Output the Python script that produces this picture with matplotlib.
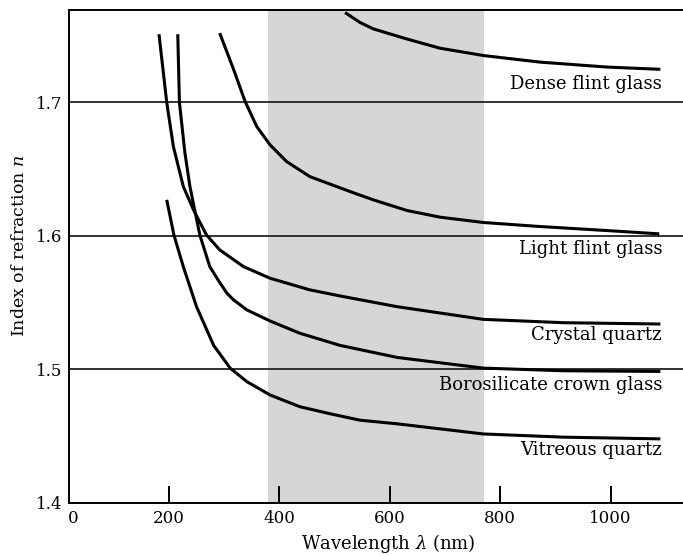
import matplotlib
matplotlib.use("Agg")
import matplotlib.pyplot as plt

plt.rcParams['font.family'] = ['DejaVu Serif']
plt.rcParams['mathtext.fontset'] = 'dejavuserif'

# refractive index curves (wavelength in nm)
crystal_nm = [182, 196, 208, 226, 245, 268, 292, 335, 383, 455, 510, 613, 769, 914, 1090]
crystal_n = [1.751, 1.700, 1.667, 1.637, 1.619, 1.6007, 1.5895, 1.577, 1.5683, 1.5596, 1.555, 1.547, 1.5375, 1.535, 1.534]

boro_nm = [216, 219, 229, 238, 256, 274, 289, 305, 317, 341, 383, 437, 510, 613, 769, 914, 1090]
boro_n = [1.751, 1.700, 1.662, 1.637, 1.6006, 1.577, 1.567, 1.5571, 1.5521, 1.5446, 1.5363, 1.5271, 1.518, 1.509, 1.501, 1.499, 1.4985]

vitreous_nm = [196, 209, 226, 250, 281, 311, 341, 383, 437, 492, 546, 613, 769, 914, 1090]
vitreous_n = [1.627, 1.6007, 1.577, 1.547, 1.518, 1.5009, 1.4909, 1.4809, 1.4721, 1.4668, 1.462, 1.4593, 1.4517, 1.4493, 1.448]

light_nm = [292, 317, 338, 359, 383, 413, 455, 528, 570, 631, 691, 770, 872, 993, 1088]
light_n = [1.7518, 1.7247, 1.7006, 1.6819, 1.6682, 1.6557, 1.6444, 1.6332, 1.627, 1.619, 1.614, 1.610, 1.607, 1.604, 1.6015]

dense_nm = [519, 546, 570, 631, 691, 770, 872, 993, 1090]
dense_n = [1.7672, 1.7598, 1.755, 1.7474, 1.7405, 1.735, 1.7301, 1.7264, 1.7247]

curve_labels = ["Dense flint glass", "Light flint glass", "Crystal quartz",
                "Borosilicate crown glass", "Vitreous quartz"]
label_n = [1.714, 1.590, 1.526, 1.488, 1.4396]

visible_band = [380, 770]
ref_lines = [1.5, 1.6, 1.7]
xtick_vals = [26, 200, 400, 600, 800, 1000]
xtick_labels = ["0", "200", "400", "600", "800", "1000"]
ytick_vals = [1.4, 1.5, 1.6, 1.7]
ytick_labels = ["1.4", "1.5", "1.6", "1.7"]

fig = plt.figure(figsize=(6.83, 5.55), dpi=100)
ax = fig.add_axes([0.101, 0.0937, 0.899, 0.888])

# visible part of the spectrum
ax.axvspan(visible_band[0], visible_band[1], color='#d6d6d6', lw=0, zorder=0)
for y in ref_lines:
    ax.axhline(y, color='#222222', lw=1.3, zorder=1)

for xs, ys in [(dense_nm, dense_n), (light_nm, light_n), (crystal_nm, crystal_n),
               (boro_nm, boro_n), (vitreous_nm, vitreous_n)]:
    ax.plot(xs, ys, color='black', lw=2.2, solid_capstyle='butt',
            solid_joinstyle='round', zorder=3)

for lab, yy in zip(curve_labels, label_n):
    ax.text(1093, yy, lab, ha='right', va='center', fontsize=13, zorder=4)

ax.set_xlim(19, 1131)
ax.set_ylim(1.4, 1.769)

ax.spines['right'].set_visible(False)
for s in ['left', 'bottom', 'top']:
    ax.spines[s].set_linewidth(1.4)

ax.set_xticks(xtick_vals)
ax.set_xticklabels(xtick_labels)
ax.set_yticks(ytick_vals)
ax.set_yticklabels(ytick_labels)
ax.tick_params(axis='x', direction='in', length=12, width=1.4, labelsize=12, pad=5)
ax.tick_params(axis='y', length=0, labelsize=12, pad=5)
ax.xaxis.get_major_ticks()[0].tick1line.set_visible(False)

ax.set_xlabel(r"Wavelength $\lambda$ (nm)", fontsize=13)
ax.xaxis.set_label_coords(0.52, -0.058)
ax.set_ylabel(r"Index of refraction $n$", fontsize=12.5)
ax.yaxis.set_label_coords(-0.066, 0.521)

fig.savefig("out.png", dpi=100, facecolor='white')
